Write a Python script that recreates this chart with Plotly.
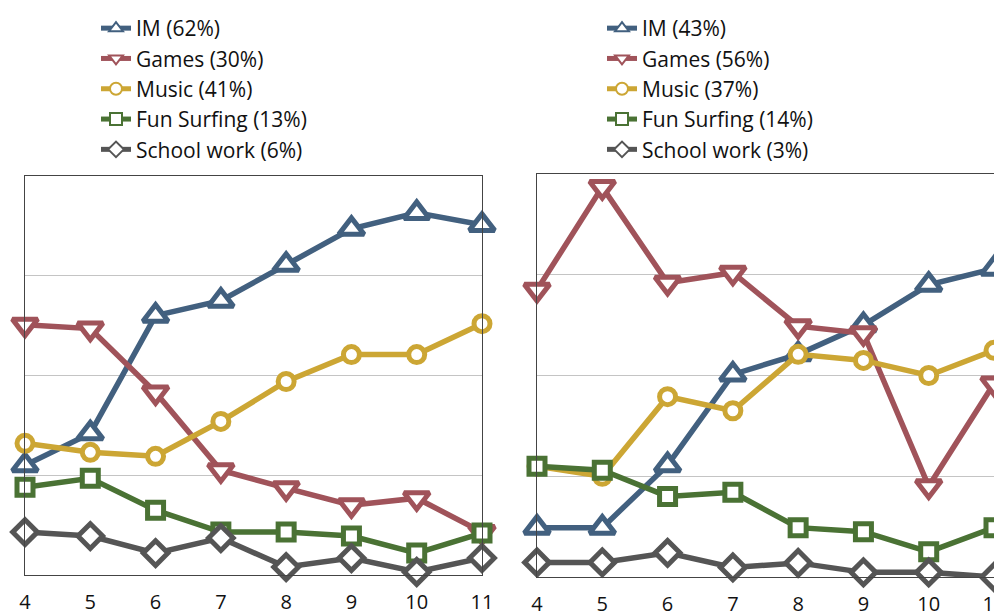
import plotly.graph_objects as go

ages = [4, 5, 6, 7, 8, 9, 10, 11]
tick_labels = ["4", "5", "6", "7", "8", "9", "10", "11"]

series_names = ["IM", "Games", "Music", "Fun Surfing", "School work"]
left_shares = ["62%", "30%", "41%", "13%", "6%"]
right_shares = ["43%", "56%", "37%", "14%", "3%"]

# left panel values
left_im = [11.0, 14.2, 26.0, 27.5, 31.1, 34.7, 36.3, 35.1]
left_games = [25.1, 24.7, 18.3, 10.5, 8.7, 7.0, 7.7, 4.3]
left_music = [13.2, 12.3, 11.9, 15.4, 19.4, 22.1, 22.1, 25.2]
left_surf = [8.8, 9.7, 6.5, 4.3, 4.3, 3.9, 2.2, 4.2]
left_school = [4.3, 3.9, 2.2, 3.7, 0.8, 1.7, 0.3, 1.7]

# right panel values
right_im = [4.9, 4.9, 11.1, 20.1, 22.1, 25.0, 29.0, 30.6]
right_games = [28.5, 38.7, 29.2, 30.2, 24.9, 24.2, 9.0, 19.2]
right_music = [11.0, 10.0, 17.9, 16.5, 22.1, 21.5, 20.0, 22.5]
right_surf = [11.0, 10.6, 8.0, 8.4, 4.9, 4.5, 2.5, 4.9]
right_school = [1.45, 1.45, 2.4, 0.95, 1.4, 0.46, 0.46, 0.0]

colors = ["#42607f", "#a0535a", "#cca634", "#4a7234", "#555555"]
symbols = ["triangle-up", "triangle-down", "circle", "square", "diamond"]
sizes = [22, 22, 16, 16, 19]

FONT = "'Open Sans', sans-serif"

fig = go.Figure()

left_data = [left_im, left_games, left_music, left_surf, left_school]
right_data = [right_im, right_games, right_music, right_surf, right_school]

for i in range(5):
    fig.add_trace(go.Scatter(
        x=ages, y=left_data[i], mode="lines+markers",
        name=f"{series_names[i]} ({left_shares[i]})",
        line=dict(color=colors[i], width=5.5),
        marker=dict(symbol=symbols[i], size=sizes[i], color="white",
                    line=dict(color=colors[i], width=5)),
        cliponaxis=False, xaxis="x", yaxis="y", legend="legend",
    ))
for i in range(5):
    fig.add_trace(go.Scatter(
        x=ages, y=right_data[i], mode="lines+markers",
        name=f"{series_names[i]} ({right_shares[i]})",
        line=dict(color=colors[i], width=5.5),
        marker=dict(symbol=symbols[i], size=sizes[i], color="white",
                    line=dict(color=colors[i], width=5)),
        cliponaxis=False, xaxis="x2", yaxis="y2", legend="legend2",
    ))

W, H = 1002, 614
OFF = 8  # page body margin
xcommon = dict(range=[4, 11], tickvals=ages, ticktext=tick_labels,
               showgrid=False, zeroline=False, showline=True, mirror=True,
               linecolor="#444444", linewidth=1, ticks="", ticklabelstandoff=9,
               tickfont=dict(family=FONT, size=20, color="#111111"))
ycommon = dict(range=[0, 40], tickvals=[10, 20, 30], showticklabels=False,
               showgrid=True, gridcolor="#c4c4c4", gridwidth=1,
               zeroline=False, showline=True, mirror=True,
               linecolor="#444444", linewidth=1, ticks="")

legcommon = dict(font=dict(family=FONT, size=21, color="#111111"),
                 bgcolor="rgba(0,0,0,0)", tracegroupgap=0,
                 xanchor="left", yanchor="top", yref="container", xref="container",
                 itemsizing="constant")


def xd(a, b):
    return [(a - OFF) / W, (b - OFF) / W]


def yd(top, bottom):
    return [(H - (bottom - OFF)) / H, (H - (top - OFF)) / H]


fig.update_layout(
    width=W, height=H,
    margin=dict(l=0, r=0, t=0, b=0, autoexpand=False),
    paper_bgcolor="white", plot_bgcolor="white",
    showlegend=True,
    xaxis=dict(domain=xd(25, 482), anchor="y", **xcommon),
    yaxis=dict(domain=yd(176, 575), anchor="x", **ycommon),
    xaxis2=dict(domain=xd(537, 994), anchor="y2", **xcommon),
    yaxis2=dict(domain=yd(174, 577), anchor="x2", **ycommon),
    legend=dict(x=88 / W, y=1.0, **legcommon),
    legend2=dict(x=594 / W, y=1.0, **legcommon),
)

fig.write_html("out.html")
